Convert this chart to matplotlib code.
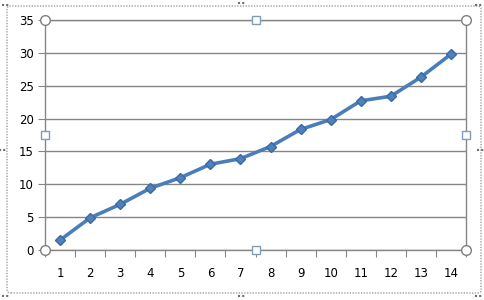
# Excel風の折れ線グラフ

import numpy as np
import matplotlib.pyplot as plt
from matplotlib.patches import FancyBboxPatch

# データ
categories = list(range(1, 15))
values = [1.5, 4.9, 6.95, 9.4, 11.0, 13.05, 13.9, 15.75, 18.35, 19.85, 22.7, 23.4, 26.3, 29.8]
y_ticks = [0, 5, 10, 15, 20, 25, 30, 35]

GRID_COLOR = "#868686"
LINE_COLOR = "#4A7EBB"
W, H = 484, 300


def main():
    fig = plt.figure(figsize=(W / 100, H / 100), dpi=100)
    # プロット領域 (ピクセル位置から算出)
    left, right, top, bottom = 45, 466, 20, 250
    ax = fig.add_axes([left / W, 1 - bottom / H, (right - left) / W, (bottom - top) / H])

    x = np.arange(len(categories)) + 1
    ax.plot(x, values, color=LINE_COLOR, linewidth=2.6, marker="D", markersize=5,
            markerfacecolor="#4F81BD", markeredgecolor="#3A6AA5", zorder=3)

    ax.set_xlim(0.5, len(categories) + 0.5)
    ax.set_ylim(0, 35)
    ax.set_yticks(y_ticks)
    ax.grid(axis="y", color=GRID_COLOR, linewidth=1.0)
    ax.set_axisbelow(True)

    # X軸: 目盛りは区切り位置、ラベルは中央
    ax.set_xticks(np.arange(0.5, len(categories) + 1.0, 1.0))
    ax.set_xticklabels([])
    ax.set_xticks(x, minor=True)
    ax.set_xticklabels([str(c) for c in categories], minor=True)
    ax.tick_params(axis="x", which="major", length=5, color=GRID_COLOR, direction="out")
    ax.tick_params(axis="x", which="minor", length=0, pad=12, labelsize=8.5)
    ax.tick_params(axis="y", length=5, color=GRID_COLOR, labelsize=8.5, pad=3)

    for s in ax.spines.values():
        s.set_color(GRID_COLOR)
        s.set_linewidth(1.0)

    # 選択ハンドル
    hx = [0.5, 7.5, 14.5]
    hy = [0, 17.5, 35]
    for xi in hx:
        for yi in hy:
            if xi == 7.5 and yi == 17.5:
                continue
            corner = xi != 7.5 and yi != 17.5
            ax.plot(xi, yi, marker="o" if corner else "s", markersize=7 if corner else 6,
                    markerfacecolor="white", markeredgecolor="#808080" if corner else "#7F9DB9",
                    clip_on=False, zorder=5)

    # グラフエリアの枠
    frame = FancyBboxPatch((7 / W, 1 - 293 / H), 474 / W, 287 / H,
                           boxstyle="round,pad=0,rounding_size=0.008",
                           transform=fig.transFigure, fill=False,
                           edgecolor="#A0A0A0", linewidth=1.0, linestyle=(0, (1, 1)))
    fig.patches.append(frame)

    # グラフエリアの小さなハンドル (点)
    dots = [(242, 3), (242, 296), (3, 150), (481, 150), (6, 5), (479, 5), (6, 296), (479, 296)]
    for px, py in dots:
        fig.add_artist(plt.Line2D([(px - 4) / W, (px + 4) / W], [1 - py / H, 1 - py / H],
                                  color="#707070", linewidth=1.5, linestyle=(0, (1, 1)),
                                  transform=fig.transFigure))

    fig.savefig("out.png", dpi=100)


if __name__ == "__main__":
    main()
